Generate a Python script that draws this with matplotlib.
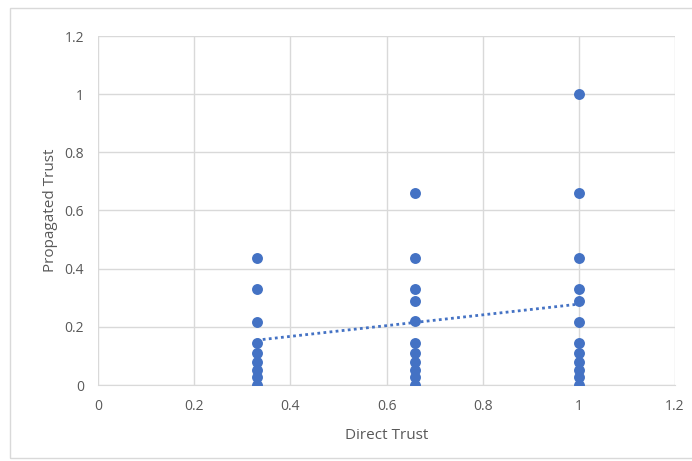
import matplotlib
matplotlib.use("Agg")
from matplotlib import pyplot as plt
from matplotlib.patches import Rectangle
import numpy as np

# data
x033 = [0.435, 0.33, 0.218, 0.145, 0.109, 0.08, 0.053, 0.027, 0.0]
x066 = [0.66, 0.435, 0.33, 0.29, 0.22, 0.145, 0.109, 0.08, 0.053, 0.027, 0.0]
x100 = [1.0, 0.66, 0.435, 0.33, 0.29, 0.218, 0.145, 0.109, 0.08, 0.053, 0.027, 0.0]
directVals = [0.33] * len(x033) + [0.66] * len(x066) + [1.0] * len(x100)
propVals = x033 + x066 + x100

plt.rcParams['font.family'] = ['Open Sans', 'DejaVu Sans']

fig = plt.figure(figsize=(6.92, 4.61), dpi=100)
ax = fig.add_axes([98 / 692, 1 - 385 / 461, (675 - 98) / 692, (385 - 36) / 461])

# outer chart border
fig.patches.append(Rectangle((10 / 692, 3 / 461), 700 / 692, 450 / 461,
                             transform=fig.transFigure, fill=False,
                             edgecolor="#d9d9d9", linewidth=1))

ax.scatter(directVals, propVals, s=62, color="#4472c4", zorder=3, linewidths=0)

# linear trendline
m, b = np.polyfit(directVals, propVals, 1)
tx = np.array([min(directVals), max(directVals)])
ax.plot(tx, m * tx + b, linestyle=(0, (1, 1.2)), color="#4472c4", linewidth=2, zorder=4)

ax.set_xlim(0, 1.2)
ax.set_ylim(0, 1.2)
ax.set_xticks([0, 0.2, 0.4, 0.6, 0.8, 1, 1.2])
ax.set_yticks([0, 0.2, 0.4, 0.6, 0.8, 1, 1.2])
ax.set_xticklabels(["0", "0.2", "0.4", "0.6", "0.8", "1", "1.2"])
ax.set_yticklabels(["0", "0.2", "0.4", "0.6", "0.8", "1", "1.2"])
ax.grid(True, color="#d9d9d9", linewidth=1)
ax.set_axisbelow(True)
for s in ["top", "right", "left"]:
    ax.spines[s].set_visible(False)
ax.spines["bottom"].set_color("#d9d9d9")
ax.tick_params(length=0, colors="#595959", labelsize=10, pad=10)

ax.set_xlabel("Direct Trust", fontsize=11, color="#595959", labelpad=10)
ax.set_ylabel("Propagated Trust", fontsize=11, color="#595959", labelpad=5)

fig.savefig("out.png", dpi=100)
